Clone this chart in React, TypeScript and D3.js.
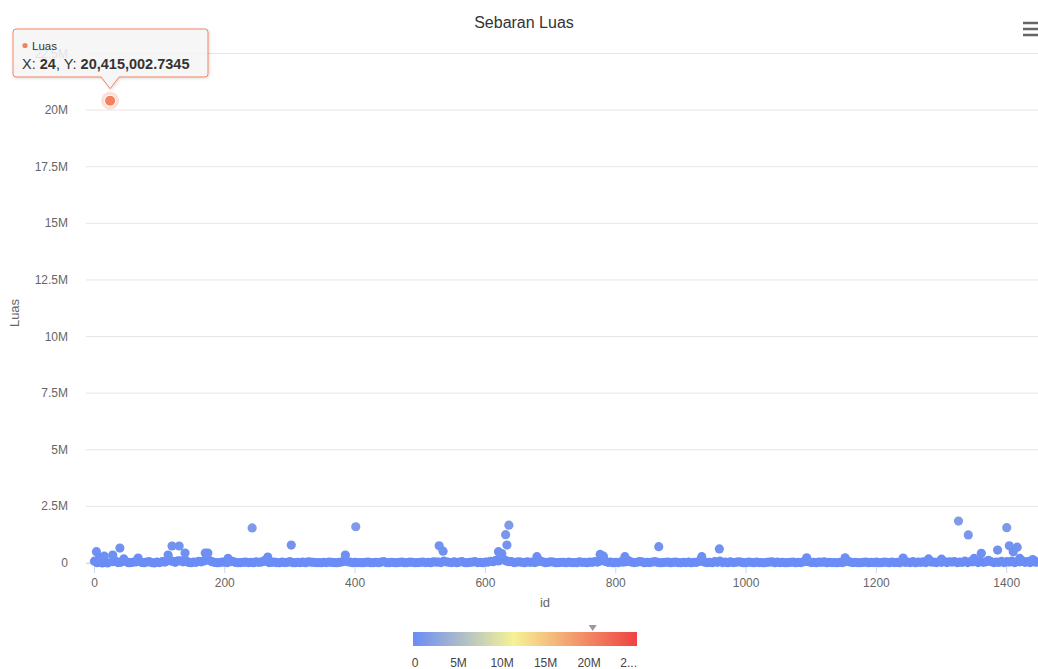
import { useEffect } from 'react';
import * as d3 from 'd3';

// id / Luas pairs (baseline band)
const lowPoints: [number, number][] = [
  [0, 80000], [4, 10000], [8, 120000], [12, 0], [16, 60000], [20, 5000], [32, 90000], [40, 30000], [48, 70000], [56, 20000],
  [64, 50000], [72, 30000], [80, 40000], [88, 20000], [96, 35000], [104, 60000], [112, 90000], [120, 70000],
  [128, 100000], [136, 50000], [144, 30000], [152, 40000], [160, 70000], [168, 90000], [176, 120000],
  [184, 30000], [192, 20000], [200, 40000], [208, 60000], [216, 30000], [224, 20000], [232, 40000],
  [240, 30000], [248, 50000], [256, 40000], [264, 70000], [272, 30000], [280, 20000], [288, 40000],
  [296, 30000], [304, 20000], [312, 30000], [320, 40000], [328, 50000], [336, 30000], [344, 20000],
  [352, 30000], [360, 40000], [368, 20000], [376, 30000], [384, 90000], [392, 40000], [400, 30000],
  [408, 20000], [416, 30000], [424, 10000], [432, 30000], [440, 40000], [448, 20000], [456, 30000],
  [464, 10000], [472, 40000], [480, 20000], [488, 30000], [496, 20000], [504, 40000], [512, 30000],
  [520, 50000], [528, 40000], [536, 80000], [544, 30000], [552, 50000], [560, 40000], [568, 20000],
  [576, 30000], [584, 60000], [592, 30000], [600, 40000], [608, 70000], [616, 120000], [624, 150000],
  [632, 90000], [640, 60000], [648, 40000], [656, 30000], [664, 50000], [672, 40000], [680, 60000],
  [688, 50000], [696, 30000], [704, 40000], [712, 20000], [720, 30000], [728, 40000], [736, 20000],
  [744, 50000], [752, 30000], [760, 40000], [768, 60000], [776, 90000], [784, 70000], [792, 40000],
  [800, 30000], [808, 50000], [816, 60000], [824, 40000], [832, 30000], [840, 50000], [848, 30000],
  [856, 40000], [864, 30000], [872, 20000], [880, 40000], [888, 30000], [896, 20000], [904, 30000],
  [912, 40000], [920, 30000], [928, 70000], [936, 40000], [944, 30000], [952, 60000], [960, 80000],
  [968, 40000], [976, 50000], [984, 30000], [992, 40000], [1000, 20000], [1008, 30000], [1016, 40000],
  [1024, 20000], [1032, 30000], [1040, 50000], [1048, 40000], [1056, 30000], [1064, 20000],
  [1072, 40000], [1080, 30000], [1088, 50000], [1096, 60000], [1104, 30000], [1112, 40000],
  [1120, 50000], [1128, 30000], [1136, 20000], [1144, 30000], [1152, 60000], [1160, 40000],
  [1168, 30000], [1176, 20000], [1184, 40000], [1192, 30000], [1200, 40000], [1208, 20000],
  [1216, 30000], [1224, 40000], [1232, 30000], [1240, 70000], [1248, 40000], [1256, 60000],
  [1264, 40000], [1272, 50000], [1280, 70000], [1288, 40000], [1296, 60000], [1304, 70000],
  [1312, 50000], [1320, 60000], [1328, 40000], [1336, 80000], [1344, 60000], [1352, 90000],
  [1360, 70000], [1368, 50000], [1376, 60000], [1384, 40000], [1392, 70000], [1400, 60000],
  [1408, 80000], [1416, 60000], [1424, 90000], [1432, 60000], [1440, 70000], [1446, 50000],
];

// more baseline ids lying between the ones above
const lowPoints2: [number, number][] = [
  [28, 60000], [36, 20000], [44, 110000], [52, 10000], [60, 40000], [68, 80000], [76, 10000], [84, 60000],
  [92, 0], [100, 20000], [108, 40000], [116, 120000], [124, 30000], [132, 90000], [140, 110000], [148, 10000],
  [156, 30000], [164, 50000], [172, 150000], [180, 60000], [188, 10000], [196, 40000], [204, 20000],
  [212, 70000], [220, 10000], [228, 30000], [236, 20000], [244, 10000], [252, 30000], [260, 90000],
  [268, 20000], [276, 40000], [284, 10000], [292, 20000], [300, 60000], [308, 10000], [316, 20000],
  [324, 10000], [332, 40000], [340, 20000], [348, 10000], [356, 20000], [364, 30000], [372, 10000],
  [380, 50000], [388, 60000], [396, 10000], [404, 20000], [412, 10000], [420, 40000], [428, 20000],
  [436, 10000], [444, 60000], [452, 10000], [460, 20000], [468, 30000], [476, 10000], [484, 40000],
  [492, 10000], [500, 30000], [508, 20000], [516, 10000], [524, 40000], [532, 20000], [540, 50000],
  [548, 20000], [556, 10000], [564, 60000], [572, 10000], [580, 40000], [588, 20000], [596, 10000],
  [604, 40000], [612, 60000], [620, 90000], [628, 160000], [636, 60000], [644, 20000], [652, 50000],
  [660, 10000], [668, 30000], [676, 20000], [684, 90000], [692, 10000], [700, 50000], [708, 10000],
  [716, 30000], [724, 10000], [732, 20000], [740, 10000], [748, 30000], [756, 10000], [764, 30000],
  [772, 40000], [780, 130000], [788, 30000], [796, 10000], [804, 20000], [812, 40000], [820, 90000],
  [828, 20000], [836, 60000], [844, 10000], [852, 20000], [860, 60000], [868, 10000], [876, 30000],
  [884, 10000], [892, 40000], [900, 10000], [908, 20000], [916, 10000], [924, 30000], [932, 110000],
  [940, 20000], [948, 10000], [956, 30000], [964, 20000], [972, 10000], [980, 20000], [988, 50000],
  [996, 10000], [1004, 40000], [1012, 10000], [1020, 20000], [1028, 10000], [1036, 40000], [1044, 10000],
  [1052, 20000], [1060, 10000], [1068, 30000], [1076, 10000], [1084, 20000], [1092, 70000], [1100, 20000],
  [1108, 10000], [1116, 30000], [1124, 10000], [1132, 20000], [1140, 10000], [1148, 20000], [1156, 80000],
  [1164, 20000], [1172, 10000], [1180, 30000], [1188, 10000], [1196, 20000], [1204, 10000], [1212, 40000],
  [1220, 10000], [1228, 20000], [1236, 10000], [1244, 30000], [1252, 20000], [1260, 10000], [1268, 30000],
  [1276, 20000], [1284, 40000], [1292, 20000], [1300, 30000], [1308, 20000], [1316, 40000], [1324, 20000],
  [1332, 30000], [1340, 20000], [1348, 50000], [1356, 20000], [1364, 30000], [1372, 120000], [1380, 20000],
  [1388, 30000], [1396, 20000], [1404, 40000], [1412, 20000], [1420, 50000], [1428, 30000], [1436, 20000],
  [1444, 40000],
];

// larger values that stand out of the band
const highPoints: [number, number][] = [
  [3, 500000], [8, 260000], [15, 300000], [28, 350000], [39, 660000], [45, 180000], [67, 220000],
  [113, 350000], [119, 750000], [130, 750000], [139, 440000], [170, 440000], [174, 440000],
  [205, 200000], [242, 1550000], [266, 260000], [302, 790000], [385, 350000], [401, 1600000],
  [529, 760000], [535, 520000], [620, 500000], [625, 420000], [631, 1250000], [633, 790000],
  [636, 1670000], [679, 280000], [776, 380000], [781, 300000], [814, 280000], [866, 720000],
  [932, 280000], [959, 620000], [1093, 230000], [1152, 230000], [1241, 220000], [1280, 180000],
  [1300, 170000], [1326, 1850000], [1341, 1240000], [1350, 200000], [1361, 430000],
  [1386, 570000], [1400, 1560000], [1404, 760000], [1410, 500000], [1416, 700000],
  [1420, 200000], [1440, 150000],
];

const hovered: [number, number] = [24, 20415002.7345];

const yTicks = [0, 2500000, 5000000, 7500000, 10000000, 12500000, 15000000, 17500000, 20000000, 22500000];
const xTicks = [0, 200, 400, 600, 800, 1000, 1200, 1400];
const legendTicks = [0, 5000000, 10000000, 15000000, 20000000];
const colorStops = ['#6a8cf6', '#f6f296', '#ef4242'];

const W = 1038;
const H = 669;
const font = 'Helvetica, Arial, "Liberation Sans", sans-serif';

const fmtY = (v: number) => (v === 0 ? '0' : `${v / 1e6}M`);

export default function App() {
  useEffect(() => {
    document.body.style.margin = '0';
    document.body.style.overflow = 'hidden';
  }, []);

  const x = d3.scaleLinear().domain([-13, 1448]).range([86, W]);
  const y = d3.scaleLinear().domain([0, 22500000]).range([563, 53.5]);
  const legendMax = 25500000;
  const lx = d3.scaleLinear().domain([0, legendMax]).range([415, 637]);
  const color = d3
    .scaleLinear<string>()
    .domain([0, legendMax * 0.45, legendMax])
    .range(colorStops)
    .interpolate(d3.interpolateRgb)
    .clamp(true);

  const hx = x(hovered[0]);
  const hy = y(hovered[1]);
  const hColor = color(hovered[1]);

  // tooltip box relative to hovered point
  const tl = 13, tr = 208, tt = 29, tb = 77;
  const tipPath = `M${tl + 3},${tt} H${tr - 3} Q${tr},${tt} ${tr},${tt + 3} V${tb - 3} Q${tr},${tb} ${tr - 3},${tb}
    H${hx + 9} L${hx},${hy - 12} L${hx - 9},${tb} H${tl + 3} Q${tl},${tb} ${tl},${tb - 3} V${tt + 3} Q${tl},${tt} ${tl + 3},${tt} Z`;

  const allLow = [...lowPoints, ...lowPoints2];

  return (
    <svg width={W} height={H} style={{ position: 'absolute', left: 0, top: 0, fontFamily: font }}>
      <defs>
        <linearGradient id="legendGrad" x1="0" x2="1" y1="0" y2="0">
          <stop offset="0" stopColor={colorStops[0]} />
          <stop offset="0.45" stopColor={colorStops[1]} />
          <stop offset="1" stopColor={colorStops[2]} />
        </linearGradient>
        <filter id="shadow" x="-10%" y="-10%" width="130%" height="140%">
          <feDropShadow dx="1" dy="1" stdDeviation="1.5" floodColor="#000" floodOpacity="0.15" />
        </filter>
      </defs>
      <rect width={W} height={H} fill="#fff" />

      <text x={524} y={28} textAnchor="middle" fontSize={16} fill="#333">
        Sebaran Luas
      </text>

      {/* hamburger */}
      {[23, 29, 35].map((yy) => (
        <line key={yy} x1={1023} x2={1038} y1={yy} y2={yy} stroke="#666" strokeWidth={2.5} />
      ))}

      {/* y grid + labels */}
      {yTicks.map((t) => (
        <g key={t}>
          <line x1={86} x2={W} y1={y(t)} y2={y(t)} stroke="#e6e6e6" strokeWidth={1} />
          <text x={68} y={y(t) + 4} textAnchor="end" fontSize={12} fill="#666">
            {fmtY(t)}
          </text>
        </g>
      ))}
      <text transform={`translate(19,313) rotate(-90)`} textAnchor="middle" fontSize={13} fill="#666">
        Luas
      </text>

      {/* x axis */}
      <line x1={86} x2={W} y1={563.5} y2={563.5} stroke="#ccd6eb" />
      {xTicks.map((t) => (
        <g key={t}>
          <line x1={x(t)} x2={x(t)} y1={563.5} y2={573} stroke="#ccd6eb" />
          <text x={x(t)} y={587} textAnchor="middle" fontSize={12} fill="#666">
            {t}
          </text>
        </g>
      ))}
      <text x={545} y={607} textAnchor="middle" fontSize={13} fill="#666">
        id
      </text>

      {/* points */}
      {allLow.map(([id, v], i) => (
        <circle key={`l${i}`} cx={x(id)} cy={y(v)} r={4.6} fill={color(v)} />
      ))}
      {highPoints.map(([id, v], i) => (
        <circle key={`h${i}`} cx={x(id)} cy={y(v)} r={4.6} fill={color(v)} />
      ))}
      <circle cx={hx} cy={hy} r={9} fill={hColor} opacity={0.25} />
      <circle cx={hx} cy={hy} r={5.5} fill={hColor} stroke="#fff" strokeWidth={1} />

      {/* tooltip */}
      <path d={tipPath} fill="rgba(247,247,247,0.85)" stroke={hColor} strokeWidth={1} filter="url(#shadow)" />
      <circle cx={25} cy={45.5} r={2.6} fill={hColor} />
      <text x={32} y={50} fontSize={11.5} fill="#333">
        Luas
      </text>
      <text x={22} y={69} fontSize={14.5} fill="#333">
        X: <tspan fontWeight="bold">{hovered[0]}</tspan>, Y:{' '}
        <tspan fontWeight="bold">{d3.format(',.4f')(hovered[1])}</tspan>
      </text>

      {/* color legend */}
      <rect x={413} y={632} width={224} height={14} fill="url(#legendGrad)" />
      <path
        d={`M${lx(hovered[1]) - 4},${625} L${lx(hovered[1]) + 4},${625} L${lx(hovered[1])},${631} Z`}
        fill="#999"
      />
      {legendTicks.map((t) => (
        <text key={t} x={lx(t)} y={667} textAnchor="middle" fontSize={12} fill="#444">
          {fmtY(t)}
        </text>
      ))}
      <text x={lx(25000000) - 4} y={667} textAnchor="middle" fontSize={12} fill="#444">
        2...
      </text>
    </svg>
  );
}
